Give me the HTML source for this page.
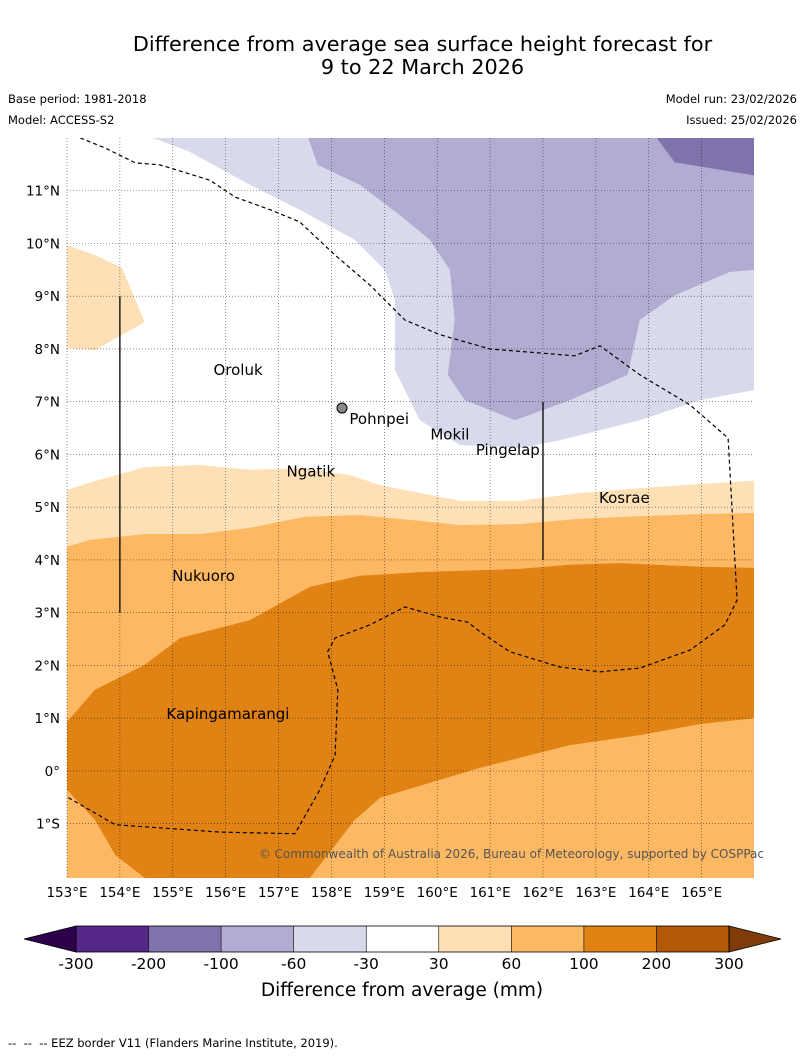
<!DOCTYPE html>
<html><head><meta charset="utf-8"><style>
body{margin:0;background:#fff;font-family:"Liberation Sans","DejaVu Sans",sans-serif;}
#wrap{position:relative;width:804px;height:1058px;overflow:hidden;}
.t{position:absolute;white-space:nowrap;color:#000;}
</style></head><body>
<div id="wrap">
<div class="t" style="left:0;width:845px;text-align:center;top:33px;font-size:20.8px;line-height:23px;font-family:'DejaVu Sans',sans-serif;">Difference from average sea surface height forecast for<br>9 to 22 March 2026</div>
<div class="t" style="left:8px;top:92px;font-size:11.5px;font-family:'DejaVu Sans',sans-serif;">Base period: 1981-2018</div>
<div class="t" style="left:8px;top:113px;font-size:11.5px;font-family:'DejaVu Sans',sans-serif;">Model: ACCESS-S2</div>
<div class="t" style="right:7px;top:92px;font-size:11.5px;font-family:'DejaVu Sans',sans-serif;">Model run: 23/02/2026</div>
<div class="t" style="right:7px;top:113px;font-size:11.5px;font-family:'DejaVu Sans',sans-serif;">Issued: 25/02/2026</div>
<svg id="map" width="804" height="1058" style="position:absolute;left:0;top:0;font-family:'DejaVu Sans',sans-serif;"></svg>
<div class="t" style="left:8px;top:1036px;font-size:11.5px;font-family:'DejaVu Sans',sans-serif;">--&nbsp; --&nbsp; -- EEZ border V11 (Flanders Marine Institute, 2019).</div>
</div>
<script>
const lonTicks=[153,154,155,156,157,158,159,160,161,162,163,164,165];
const latTicks=[11,10,9,8,7,6,5,4,3,2,1,0,-1];
const latLabels=["11°N","10°N","9°N","8°N","7°N","6°N","5°N","4°N","3°N","2°N","1°N","0°","1°S"];
const cbLevels=["-300","-200","-100","-60","-30","30","60","100","200","300"];
const cbColors=["#542788","#8073ac","#b2abd2","#d8daeb","#ffffff","#fee0b6","#fdb863","#e08214","#b35806"];
const regLightPurple=[[154.63,12],[155.3,11.75],[156.46,11.11],[157.4,10.64],[158.44,10.07],[159.01,9.5],[159.2,8.93],[159.2,7.6],[159.67,6.65],[160.43,6.18],[161.56,6.12],[162.32,6.27],[163.08,6.46],[163.83,6.65],[164.97,7.03],[165.99,7.22],[165.99,12]];
const regMidPurple=[[157.56,12],[157.74,11.49],[158.54,11.11],[159.29,10.54],[159.86,10.07],[160.24,9.5],[160.33,8.55],[160.2,7.51],[160.52,7.03],[161.47,6.65],[162.51,7.03],[163.6,7.51],[163.83,8.55],[164.49,9.02],[165.53,9.46],[165.99,9.5],[165.99,12]];
const regDarkPurple=[[164.15,12],[164.49,11.54],[165.99,11.29],[165.99,12]];
const regTopLeft=[[153,9.97],[153.53,9.78],[154.04,9.54],[154.47,8.51],[153.53,7.98],[153,8.02]];
const bandLight=[[153,5.33],[153.62,5.52],[154.47,5.76],[155.51,5.8],[156.46,5.71],[157.4,5.74],[158.35,5.61],[158.92,5.42],[159.67,5.27],[160.43,5.12],[161.56,5.12],[162.7,5.27],[163.83,5.36],[164.97,5.44],[165.99,5.5]];
const bandMid=[[153,4.25],[153.43,4.38],[154.47,4.49],[155.51,4.49],[156.46,4.61],[157.5,4.82],[158.54,4.85],[159.67,4.74],[160.43,4.66],[161.56,4.68],[162.7,4.78],[163.83,4.83],[164.97,4.87],[165.99,4.89]];
const regDarkOrange=[[153,0.93],[153.53,1.54],[154.47,2.01],[155.14,2.52],[156.46,2.86],[157.59,3.49],[158.54,3.7],[159.67,3.77],[161.56,3.83],[162.51,3.91],[163.45,3.94],[164.97,3.87],[165.99,3.85],[165.99,1.0],[164.97,0.89],[163.83,0.68],[162.51,0.49],[160.81,0.06],[158.92,-0.51],[158.44,-0.93],[157.59,-2.03],[154.47,-2.03],[153.91,-1.59],[153.53,-0.93],[153,-0.36]];
const eez=[[153.25,12],[153.72,11.81],[154.29,11.53],[154.76,11.49],[155.7,11.2],[156.18,10.88],[156.84,10.64],[157.4,10.41],[158.07,9.78],[158.73,9.21],[159.39,8.55],[160.05,8.27],[161.0,8.0],[162.6,7.87],[163.08,8.06],[163.83,7.51],[164.78,6.94],[165.5,6.31],[165.67,3.24],[165.44,2.77],[164.78,2.29],[163.83,1.95],[163.08,1.88],[162.32,1.97],[161.37,2.26],[160.81,2.64],[160.58,2.82],[160.05,2.92],[159.39,3.11],[158.73,2.77],[158.07,2.52],[157.93,2.26],[158.12,1.54],[158.07,0.3],[157.78,-0.36],[157.31,-1.19],[155.89,-1.16],[153.91,-1.02],[153,-0.49]];
const islands=[["Oroluk",155.77,7.6],["Pohnpei",158.34,6.67],["Mokil",159.87,6.38],["Pingelap",160.73,6.08],["Ngatik",157.15,5.68],["Kosrae",163.06,5.17],["Nukuoro",154.99,3.7],["Kapingamarangi",154.88,1.08]];
const NS="http://www.w3.org/2000/svg";
const svg=document.getElementById('map');
const X0=67,X1=754,Y0=138,Y1=878;
const lon0=153,lon1=165.99,lat0=-2.03,lat1=12;
function xs(l){return X0+(l-lon0)/(lon1-lon0)*(X1-X0);}
function ys(l){return Y1-(l-lat0)/(lat1-lat0)*(Y1-Y0);}
function el(t,a){const e=document.createElementNS(NS,t);for(const k in a)e.setAttribute(k,a[k]);svg.appendChild(e);return e;}
function pts(arr){return arr.map(p=>xs(p[0]).toFixed(1)+','+ys(p[1]).toFixed(1)).join(' ');}
const clip=el('clipPath',{id:'mc'});const cr=document.createElementNS(NS,'rect');clip.appendChild(cr);
cr.setAttribute('x',X0);cr.setAttribute('y',Y0);cr.setAttribute('width',X1-X0);cr.setAttribute('height',Y1-Y0);
let p;
p=el('rect',{x:X0,y:Y0,width:X1-X0,height:Y1-Y0,fill:'#fff'});


p=el('polygon',{points:pts(regLightPurple),fill:cbColors[3]});


p=el('polygon',{points:pts(regMidPurple),fill:cbColors[2]});


p=el('polygon',{points:pts(regDarkPurple),fill:cbColors[1]});


p=el('polygon',{points:pts(regTopLeft),fill:cbColors[5]});


p=el('polygon',{points:pts(bandLight.concat([[165.99,-2.03],[153,-2.03]])),fill:cbColors[5]});


p=el('polygon',{points:pts(bandMid.concat([[165.99,-2.03],[153,-2.03]])),fill:cbColors[6]});


p=el('polygon',{points:pts(regDarkOrange),fill:cbColors[7]});


lonTicks.forEach(l=>{const g=el('line',{x1:xs(l),x2:xs(l),y1:Y0,y2:Y1,stroke:'#000','stroke-width':0.6,'stroke-dasharray':'1,2',opacity:0.7});


const t=el('text',{x:xs(l),y:897,'font-size':13.5,'text-anchor':'middle'});t.textContent=l+'°E';

});
latTicks.forEach((l,i)=>{const g=el('line',{x1:X0,x2:X1,y1:ys(l),y2:ys(l),stroke:'#000','stroke-width':0.6,'stroke-dasharray':'1,2',opacity:0.7});


const t=el('text',{x:60,y:ys(l)+5,'font-size':13.5,'text-anchor':'end'});t.textContent=latLabels[i];

});
p=el('polyline',{points:pts(eez),fill:'none',stroke:'#000','stroke-width':1.2,'stroke-dasharray':'4,3','clip-path':'url(#mc)'});


p=el('line',{x1:xs(154),x2:xs(154),y1:ys(9),y2:ys(3),stroke:'#000','stroke-width':1.3});


p=el('line',{x1:xs(162),x2:xs(162),y1:ys(7),y2:ys(4),stroke:'#000','stroke-width':1.3});


p=el('circle',{cx:xs(158.2),cy:ys(6.88),r:5,fill:'#888',stroke:'#000','stroke-width':1});


islands.forEach(d=>{const t=el('text',{x:xs(d[1]),y:ys(d[2])+5,'font-size':15});t.textContent=d[0];

});
p=el('text',{x:764,y:858,'font-size':12,'text-anchor':'end',fill:'#555'});p.textContent='© Commonwealth of Australia 2026, Bureau of Meteorology, supported by COSPPac';


const CB0=76,CB1=729,CBY=926,CBH=26,w=(CB1-CB0)/cbColors.length;
p=el('polygon',{points:`${CB0},${CBY} 24,${CBY+CBH/2} ${CB0},${CBY+CBH}`,fill:'#2d004b',stroke:'#000','stroke-width':0.8});


p=el('polygon',{points:`${CB1},${CBY} 781,${CBY+CBH/2} ${CB1},${CBY+CBH}`,fill:'#7f3b08',stroke:'#000','stroke-width':0.8});


cbColors.forEach((c,i)=>{const r=el('rect',{x:CB0+i*w,y:CBY,width:w,height:CBH,fill:c});

});
p=el('rect',{x:CB0,y:CBY,width:CB1-CB0,height:CBH,fill:'none',stroke:'#000','stroke-width':0.8});


cbLevels.forEach((v,i)=>{const x=CB0+i*w;const l=el('line',{x1:x,x2:x,y1:CBY,y2:CBY+CBH,stroke:'#000','stroke-width':0.6});


const t=el('text',{x:x,y:969,'font-size':15.5,'text-anchor':'middle'});t.textContent=v;

});
p=el('text',{x:402,y:996,'font-size':18.5,'text-anchor':'middle'});p.textContent='Difference from average (mm)';


</script>
</body></html>
